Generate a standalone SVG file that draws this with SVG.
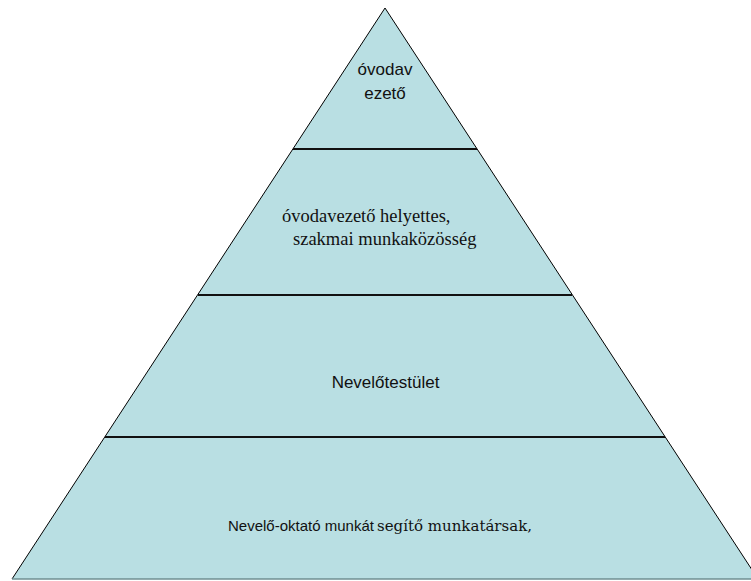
<svg xmlns="http://www.w3.org/2000/svg" width="751" height="581" viewBox="0 0 751 581">
<style>
.tier{fill:#b9dfe3;stroke:none}
.edge{fill:none;stroke:#000;stroke-width:1}
.sep{stroke:#111;stroke-width:2.2}
.sans{font-family:"Liberation Sans","Open Sans",sans-serif;font-size:17px;fill:#111}
.serif{font-family:"Liberation Serif","Times New Roman",serif;font-size:18.5px;fill:#111}
</style>
<rect width="751" height="581" fill="#fff"/>
<g id="pyramid">
<polygon class="tier" points="385,8 12,579 758,579"/>
<polyline class="edge" points="12,579 385,8 758,579"/>
<line x1="12" y1="579" x2="751" y2="579" stroke="#6f8f92" stroke-width="1.5"/>
</g>
<g id="connectors">
<line class="sep" x1="293" y1="149" x2="477" y2="149"/>
<line class="sep" x1="198" y1="295" x2="572" y2="295"/>
<line class="sep" x1="105" y1="437" x2="665" y2="437"/>
</g>
<g id="tier1">
<text class="sans" x="385" y="75" text-anchor="middle">óvodav</text>
<text class="sans" x="385" y="99" text-anchor="middle">ezető</text>
</g>
<g id="tier2">
<text class="serif" x="282" y="222">óvodavezető helyettes,</text>
<text class="serif" x="293" y="245">szakmai munkaközösség</text>
</g>
<g id="tier3">
<text class="sans" x="385.5" y="388" text-anchor="middle">Nevelőtestület</text>
</g>
<g id="tier4">
<text y="531" fill="#111"><tspan x="228" font-family="'Liberation Sans','Open Sans',sans-serif" font-size="15px">Nevelő-oktató munkát</tspan><tspan x="377" font-family="'DejaVu Serif','Liberation Serif',serif" font-size="15px">segítő munkatársak,</tspan></text>
</g>
</svg>
